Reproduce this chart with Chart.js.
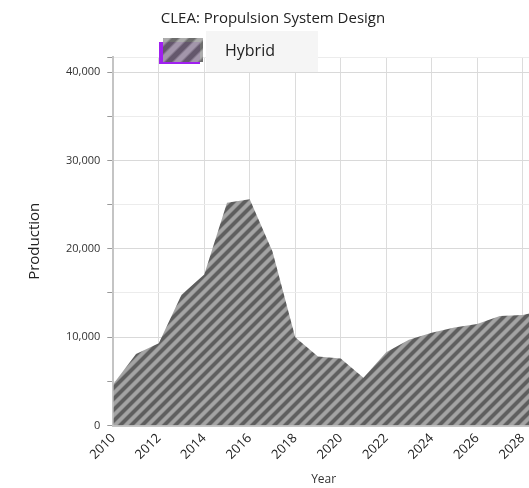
<!DOCTYPE html>
<html lang="en">
<head>
  <meta charset="UTF-8" />
  <title>CLEA: Propulsion System Design</title>
  <script src="https://cdn.jsdelivr.net/npm/chart.js@4.4.1/dist/chart.umd.min.js"></script>
  <style>
    html, body {
      margin: 0;
      padding: 0;
      background: #fff;
      overflow: hidden;
    }
    .chart-box {
      width: 547px;
      height: 488px;
    }
  </style>
</head>
<body>
  <div class="chart-box">
    <canvas id="clea-chart" width="547" height="488"></canvas>
  </div>
  <script>
    // Data
    var years = [2010, 2011, 2012, 2013, 2014, 2015, 2016, 2017, 2018, 2019,
                 2020, 2021, 2022, 2023, 2024, 2025, 2026, 2027, 2028, 2029];
    var hybrid = [4700, 8100, 9300, 14800, 17100, 25200, 25600, 19700, 10000, 7800,
                  7600, 5400, 8300, 9700, 10500, 11100, 11500, 12400, 12500, 13100];
    var yearTicks = [2010, 2012, 2014, 2016, 2018, 2020, 2022, 2024, 2026, 2028];
    var prodTicks = [0, 5000, 10000, 15000, 20000, 25000, 30000, 35000, 40000];
    var seriesName = 'Hybrid';
    var chartTitle = 'CLEA: Propulsion System Design';

    var FONT = "'Open Sans', 'Noto Sans', sans-serif";
    var Y_TOP = 41700;

    // diagonal stripe pattern
    function makeStripes(size) {
      var c = document.createElement('canvas');
      c.width = size;
      c.height = size;
      var cx = c.getContext('2d');
      var img = cx.createImageData(size, size);
      for (var y = 0; y < size; y++) {
        for (var x = 0; x < size; x++) {
          var t = ((x + y) % size) / size;
          var k = 0.5 + 0.5 * Math.cos(2 * Math.PI * t);
          k = Math.max(0, Math.min(1, (k - 0.5) * 1.8 + 0.5));
          var v = Math.round(0x5e + (0xa4 - 0x5e) * k);
          var i = (y * size + x) * 4;
          img.data[i] = v;
          img.data[i + 1] = v;
          img.data[i + 2] = v;
          img.data[i + 3] = 255;
        }
      }
      cx.putImageData(img, 0, 0);
      return cx.createPattern(c, 'repeat');
    }

    var stripes = makeStripes(11);
    var bigStripes = makeStripes(17);

    // hand-made legend item like the one in the picture
    var legendPlugin = {
      id: 'hybridLegend',
      afterDraw: function (chart) {
        var ctx = chart.ctx;
        ctx.save();
        ctx.fillStyle = '#a020f0';
        ctx.fillRect(159, 42, 41, 22);
        ctx.fillStyle = bigStripes;
        ctx.globalAlpha = 0.9;
        ctx.fillRect(163, 38, 40, 24);
        ctx.globalAlpha = 1;
        ctx.fillStyle = '#f5f5f5';
        ctx.fillRect(206, 31, 112, 41);
        ctx.fillStyle = '#222';
        ctx.font = '16px ' + FONT;
        ctx.textBaseline = 'middle';
        ctx.fillText(seriesName, 225, 51);
        ctx.restore();
      }
    };

    var points = years.map(function (yr, i) {
      return { x: yr, y: hybrid[i] };
    });

    var ctx = document.getElementById('clea-chart').getContext('2d');
    new Chart(ctx, {
      type: 'line',
      data: {
        datasets: [{
          label: seriesName,
          data: points,
          fill: 'origin',
          backgroundColor: stripes,
          borderWidth: 0,
          pointRadius: 0,
          tension: 0
        }]
      },
      options: {
        responsive: false,
        animation: false,
        layout: {
          padding: { top: 0, left: 12, right: 13, bottom: 0 }
        },
        plugins: {
          legend: { display: false },
          tooltip: { enabled: false },
          title: {
            display: true,
            text: chartTitle,
            color: '#222',
            font: { family: FONT, size: 15, weight: 'normal' },
            padding: { top: 10, bottom: 29 }
          }
        },
        scales: {
          x: {
            type: 'linear',
            min: 2010,
            max: 2028.5,
            afterBuildTicks: function (scale) {
              scale.ticks = yearTicks.map(function (v) { return { value: v }; });
            },
            title: {
              display: true,
              text: 'Year',
              color: '#333',
              font: { family: FONT, size: 12 },
              padding: { top: 5, bottom: 1 }
            },
            ticks: {
              autoSkip: false,
              padding: 5,
              maxRotation: 45,
              minRotation: 45,
              color: '#222',
              font: { family: FONT, size: 13 },
              callback: function (v) {
                return String(v);
              }
            },
            grid: {
              color: '#dcdcdc',
              tickLength: 0
            },
            border: { color: '#c4c4c4', width: 2 }
          },
          y: {
            min: 0,
            max: Y_TOP,
            afterBuildTicks: function (scale) {
              scale.ticks = prodTicks.concat([Y_TOP]).map(function (v) { return { value: v }; });
            },
            title: {
              display: true,
              text: 'Production',
              color: '#222',
              font: { family: FONT, size: 15 },
              padding: { top: 14, bottom: 15 }
            },
            ticks: {
              autoSkip: false,
              padding: 7,
              color: '#333',
              font: { family: FONT, size: 11 },
              callback: function (v) {
                return (v % 10000 === 0) ? v.toLocaleString('en-US') : '';
              }
            },
            grid: {
              color: function (c) {
                return (c.tick && c.tick.value % 10000 === 0) ? '#d9d9d9' : '#ececec';
              },
              tickColor: '#999',
              tickLength: 6
            },
            border: { color: '#c4c4c4', width: 2 }
          }
        }
      },
      plugins: [legendPlugin]
    });
  </script>
</body>
</html>
